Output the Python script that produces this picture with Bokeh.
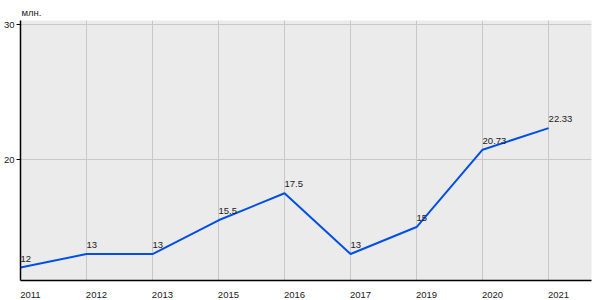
from bokeh.plotting import figure
from bokeh.models import Range1d, FixedTicker, Title, ColumnDataSource
from bokeh.core.properties import value
from bokeh.embed import file_html
from bokeh.resources import INLINE

years = ["2011", "2012", "2013", "2015", "2016", "2017", "2019", "2020", "2021"]
values = [12, 13, 13, 15.5, 17.5, 13, 15, 20.73, 22.33]
value_labels = ["12", "13", "13", "15.5", "17.5", "13", "15", "20.73", "22.33"]
y_ticks = [20, 30]
unit_label = "млн."

FONT = "Liberation Sans"
xs = list(range(len(years)))

p = figure(width=600, height=300, output_backend="svg", toolbar_location=None,
           x_range=Range1d(0, 8.65), y_range=Range1d(11.04, 30.3))
p.min_border_left = 20
p.min_border_right = 9
p.min_border_bottom = 20
p.min_border_top = 20
p.background_fill_color = "#ebebeb"
p.border_fill_color = "white"
p.outline_line_color = None

src = ColumnDataSource(dict(x=xs, y=values, lbl=value_labels))
p.line("x", "y", source=src, line_color="#0050e8", line_width=2)
p.text("x", "y", text="lbl", source=src, text_align="left", text_baseline="bottom",
       y_offset=-6, x_offset=0, text_font=value(FONT), text_font_size="9.5px",
       text_color="#222222")

# x axis: labels shifted so that they start at the gridline
off = 0.15
tick_pos = [round(i + off, 2) for i in xs]
p.xaxis.ticker = FixedTicker(ticks=tick_pos)
p.xaxis.major_label_overrides = {t: y for t, y in zip(tick_pos, years)}
p.xaxis.major_tick_line_color = None
p.xaxis.minor_tick_line_color = None
p.xaxis.axis_line_color = "black"
p.xaxis.axis_line_width = 1.5
p.xaxis.major_label_standoff = 5
p.xaxis.major_label_text_font = FONT
p.xaxis.major_label_text_font_size = "9.5px"
p.xaxis.major_label_text_color = "#222222"

p.yaxis.ticker = FixedTicker(ticks=y_ticks)
p.yaxis.major_tick_in = 0
p.yaxis.major_tick_out = 4
p.yaxis.minor_tick_line_color = None
p.yaxis.axis_line_color = "black"
p.yaxis.axis_line_width = 1.5
p.yaxis.major_label_standoff = 2
p.yaxis.major_label_text_font = FONT
p.yaxis.major_label_text_font_size = "9.5px"
p.yaxis.major_label_text_color = "#222222"

p.xgrid.ticker = FixedTicker(ticks=xs)
p.ygrid.ticker = FixedTicker(ticks=y_ticks)
p.xgrid.grid_line_color = "#c8c8c8"
p.ygrid.grid_line_color = "#c8c8c8"

t = Title(text=unit_label, align="left", text_font=FONT, text_font_size="9.5px",
          text_font_style="normal", text_color="#222222", standoff=5, offset=1)
p.add_layout(t, "above")

open("out.html", "w").write(file_html(p, INLINE))
